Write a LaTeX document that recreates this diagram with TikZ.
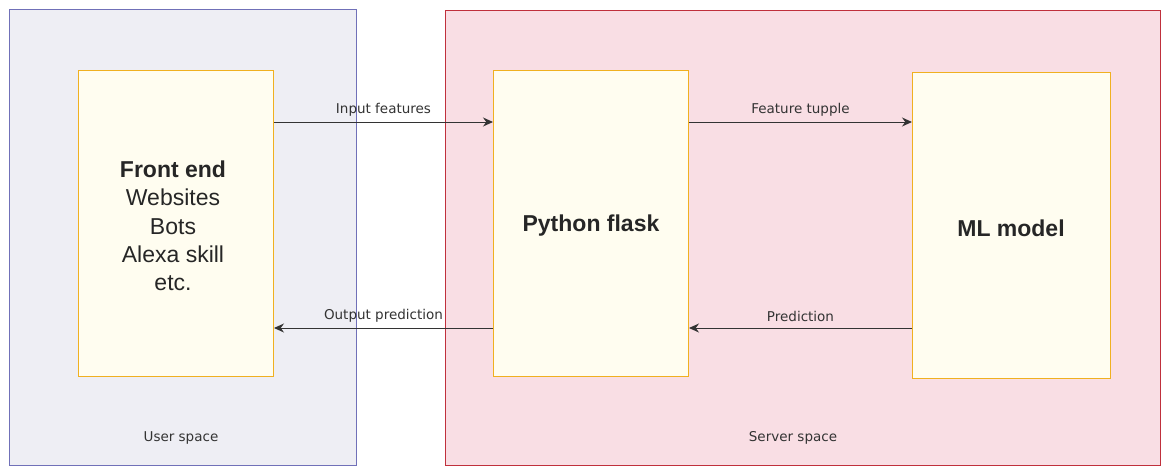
\documentclass[tikz,border=0pt]{standalone}
\usepackage{fontspec}
\setmainfont{Liberation Sans}
\newfontfamily\labelfont{DejaVu Sans}
\usetikzlibrary{arrows.meta}
\definecolor{userfill}{HTML}{EEEEF4}
\definecolor{userline}{HTML}{7070B8}
\definecolor{serverfill}{HTML}{F9DEE4}
\definecolor{serverline}{HTML}{C0303C}
\definecolor{boxfill}{HTML}{FFFDF0}
\definecolor{boxline}{HTML}{F0B020}
\tikzset{
  space/.style={draw, line width=1pt, anchor=north west, inner sep=0pt},
  compbox/.style={draw=boxline, fill=boxfill, line width=1pt, anchor=north west,
    inner sep=0pt, minimum width=195pt, minimum height=306pt},
  bigtext/.style={font=\fontsize{23}{28.3}\selectfont, align=center, text=black!85},
  flowlabel/.style={font=\labelfont\fontsize{13.5}{16}\selectfont, text=black!80},
  flow/.style={draw=black!80, line width=1pt, -{Stealth[length=10pt,width=9pt]}},
}
\begin{document}
\begin{tikzpicture}[x=1pt,y=-1pt]
\useasboundingbox (0,0) rectangle (1168,466);
\fill[white] (0,0) rectangle (1168,466);
% regions
\node[space, draw=userline, fill=userfill, minimum width=347pt, minimum height=456pt] (user) at (9,9) {};
\node[space, draw=serverline, fill=serverfill, minimum width=715pt, minimum height=455pt] (server) at (445,10) {};
\node[flowlabel] (userlbl) at (181,438) {User space};
\node[flowlabel] (serverlbl) at (793,438) {Server space};
% components
\node[compbox] (front) at (78,70) {};
\node[compbox] (flask) at (493,70) {};
\node[compbox, minimum width=198pt] (ml) at (912,72) {};
\node[bigtext] (fronttxt) at (173,226) {\textbf{Front end}\\Websites\\Bots\\Alexa skill\\etc.};
\node[bigtext] (flasktxt) at (591,226) {\textbf{Python flask}};
\node[bigtext] (mltxt) at (1011,228) {\textbf{ML model}};
% connectors
\coordinate (a1) at (front.east |- 0,122);
\coordinate (a2) at (flask.west |- 0,122);
\coordinate (b1) at (flask.east |- 0,122);
\coordinate (b2) at (ml.west |- 0,122);
\coordinate (c1) at (flask.west |- 0,328);
\coordinate (c2) at (front.east |- 0,328);
\coordinate (d1) at (ml.west |- 0,328);
\coordinate (d2) at (flask.east |- 0,328);
\draw[flow] (a1) -- node[flowlabel, above=2pt] (l1) {Input features} (a2);
\draw[flow] (b1) -- node[flowlabel, above=2pt] (l2) {Feature tupple} (b2);
\draw[flow] (c1) -- node[flowlabel, above=2pt] (l3) {Output prediction} (c2);
\draw[flow] (d1) -- node[flowlabel, above=2pt] (l4) {Prediction} (d2);
\end{tikzpicture}
\end{document}
